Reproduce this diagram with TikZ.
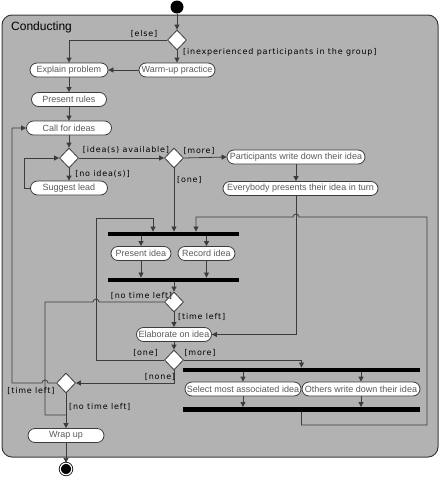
\documentclass[tikz,border=0pt]{standalone}
\usepackage{fontspec}
\setmainfont{Liberation Sans}
\newfontfamily\guardfont[LetterSpace=10]{DejaVu Sans}
\usetikzlibrary{arrows.meta,shapes.geometric}
\definecolor{regiongray}{HTML}{B2B2B2}
\definecolor{edgegray}{HTML}{3C3C3C}
\definecolor{textgray}{HTML}{5A5A5A}
\begin{document}
\begin{tikzpicture}[x=1pt,y=-1pt,
  action/.style={draw=edgegray,fill=white,rounded corners=7pt,minimum height=14pt,inner sep=0pt,font=\fontsize{9}{10}\selectfont,text=textgray,line width=0.8pt},
  choice/.style={diamond,draw=edgegray,fill=white,minimum width=19pt,minimum height=20pt,inner sep=0pt,line width=0.8pt},
  bar/.style={fill=black,inner sep=0pt,minimum height=4.5pt},
  guard/.style={font=\guardfont\fontsize{8}{9}\selectfont,inner sep=0pt},
  flow/.style={draw=edgegray,line width=0.8pt,-{Triangle[length=5pt,width=5pt]}},
  wire/.style={draw=edgegray,line width=0.8pt}]
\useasboundingbox (0,0) rectangle (440,477);
\draw[fill=regiongray,draw=edgegray,line width=1pt,rounded corners=10pt] (2,15) rectangle (438,457);
\node[anchor=base west,font=\fontsize{12}{14}\selectfont,inner sep=0pt] (title) at (11,30.5) {Conducting};
\node[circle,fill=black,inner sep=0pt,minimum size=13pt] (start) at (177,7) {};
\node[circle,fill=black,draw=black,double=white,double distance=1.2pt,line width=0.8pt,inner sep=0pt,minimum size=11.5pt] (stop) at (66,469) {};
\node[choice] (dec1) at (177,40) {};
\node[choice] (dec2) at (69,158) {};
\node[choice] (dec3) at (174,158) {};
\node[choice] (dec4) at (174,302) {};
\node[choice] (dec5) at (174,360) {};
\node[choice] (dec6) at (66,383) {};
\node[action,minimum width=78pt] (explain) at (69,70) {Explain problem};
\node[action,minimum width=76pt] (warmup) at (177,70) {Warm-up practice};
\node[action,minimum width=75pt] (rules) at (69,99.5) {Present rules};
\node[action,minimum width=85pt] (callideas) at (69,128) {Call for ideas};
\node[action,minimum width=77pt] (suggest) at (69,188) {Suggest lead};
\node[action,minimum width=138pt] (writedown) at (296,157) {Participants write down their idea};
\node[action,minimum width=155pt] (everybody) at (300.5,188.5) {Everybody presents their idea in turn};
\node[action,minimum width=60pt] (present) at (141,253.5) {Present idea};
\node[action,minimum width=57pt] (record) at (206.5,253.5) {Record idea};
\node[action,minimum width=75pt] (elaborate) at (174,334.5) {Elaborate on idea};
\node[action,minimum width=116pt] (select) at (243,389) {Select most associated idea};
\node[action,minimum width=118pt] (others) at (361,389) {Others write down their idea};
\node[action,minimum width=76pt] (wrapup) at (66,435.5) {Wrap up};
\node[bar,minimum width=131pt] (fork1) at (173.5,234) {};
\node[bar,minimum width=131pt] (join1) at (173.5,280) {};
\node[bar,minimum width=237pt] (fork2) at (301.5,370) {};
\node[bar,minimum width=237pt] (join2) at (301.5,409.5) {};
\coordinate (merge) at (66,415);
\draw[flow] (start) -- (dec1);
\draw[flow] (dec1.west) -| (explain.north);
\draw[flow] (dec1.south) -- (warmup.north);
\draw[flow] (warmup.west) -- (explain.east);
\draw[flow] (explain.south) -- (rules.north);
\draw[flow] (rules.south) -- (callideas.north);
\draw[flow] (callideas.south) -- (dec2.north);
\draw[flow] (dec2.east) -- (dec3.west);
\draw[flow] (dec2.south) -- (suggest.north);
\draw[flow] (suggest.west) -- ++(-6,0) |- (dec2.west);
\draw[flow] (dec3.east) -- (writedown.west);
\draw[flow] (writedown.south) -- (writedown.south |- everybody.north);
\draw[flow] (dec3.south) -- (dec3.south |- fork1.north);
\draw[flow] (everybody.south -| writedown.south) |- (elaborate.east);
\draw[flow] (present.north |- fork1.south) -- (present.north);
\draw[flow] (record.north |- fork1.south) -- (record.north);
\draw[flow] (present.south) -- (present.south |- join1.north);
\draw[flow] (record.south) -- (record.south |- join1.north);
\draw[flow] (dec4.north |- join1.south) -- (dec4.north);
\draw[wire] (dec4.west) -- (99,302) arc[start angle=0,end angle=180,radius=3pt] -- (45,302) |- (merge);
\draw[flow] (dec4.south) -- (elaborate.north);
\draw[flow] (elaborate.south) -- (dec5.north);
\draw[flow] (dec5.west) -| (96,218) -| ([xshift=-20.5pt]fork1.north);
\draw[flow] (dec5.east) -| (fork2.north);
\draw[flow] (select.north |- fork2.south) -- (select.north);
\draw[flow] (others.north |- fork2.south) -- (others.north);
\draw[flow] (select.south) -- (select.south |- join2.north);
\draw[flow] (others.south) -- (others.south |- join2.north);
\draw[flow] (join2.south) -- ++(0,13) -| (427,217) -- (299,217) arc[start angle=0,end angle=180,radius=3pt] -| ([xshift=22.5pt]fork1.north);
\draw[flow] (dec5.south) |- (dec6.east);
\draw[flow] (dec6.west) -- (48,383) arc[start angle=0,end angle=180,radius=3pt] -- (12,383) |- (callideas.west);
\draw[flow] (dec6.south) -- (wrapup.north);
\draw[flow] (wrapup.south) -- (stop.north);
\node[guard] (gelse) at (144,33.5) {[else]};
\node[guard,anchor=west] (gnovice) at (183,52) {[inexperienced participants in the group]};
\node[guard] (gavail) at (126,150) {[idea(s) available]};
\node[guard] (gmore1) at (199,150.5) {[more]};
\node[guard] (gnoidea) at (102.5,173.5) {[no idea(s)]};
\node[guard,anchor=west] (gone1) at (177,180) {[one]};
\node[guard] (gnotime1) at (141.5,296) {[no time left]};
\node[guard,anchor=west] (gtime1) at (178,317) {[time left]};
\node[guard] (gone2) at (145.5,353) {[one]};
\node[guard] (gmore2) at (200,353) {[more]};
\node[guard] (gnone) at (160,377) {[none]};
\node[guard] (gtime2) at (31,391) {[time left]};
\node[guard,anchor=west] (gnotime2) at (69,407) {[no time left]};
\end{tikzpicture}
\end{document}
